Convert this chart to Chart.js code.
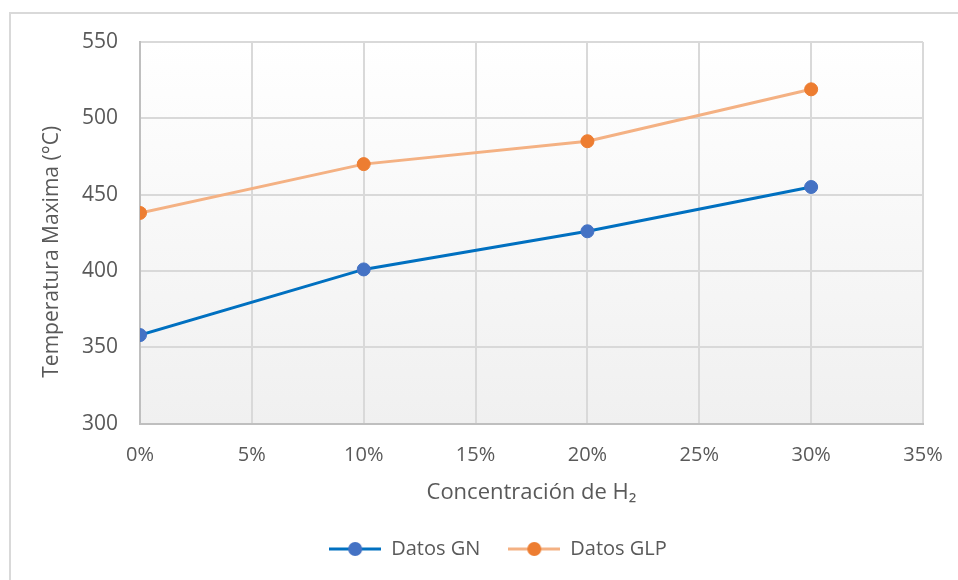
<!DOCTYPE html>
<html>
<head>
<meta charset="utf-8">
<title>Temperatura Maxima vs Concentración de H2</title>
<script src="https://cdn.jsdelivr.net/npm/chart.js@4.4.1/dist/chart.umd.min.js"></script>
<style>
  html, body { margin: 0; padding: 0; background: #ffffff; }
  canvas { display: block; }
</style>
</head>
<body>
<canvas id="chart" width="958" height="580"></canvas>
<script>
// H2 concentration (%) and peak temperature (°C) for each fuel
const concentrations = [0, 10, 20, 30];
const tempGN = [358, 401, 426, 455];
const tempGLP = [438, 470, 485, 519];
const seriesNames = ['Datos GN', 'Datos GLP'];
const xTitle = 'Concentración de H\u2082';
const yTitle = 'Temperatura Maxima (°C)';

const TEXT = '#595959';
const FONT = "'Open Sans', 'Noto Sans', sans-serif";

const colors = {
  gnLine: '#0070C0', gnPoint: '#4472C4',
  glpLine: '#F4B183', glpPoint: '#ED7D31'
};

// legend swatch: a short line with a marker in the middle
function swatch(lineColor, pointColor) {
  const c = document.createElement('canvas');
  c.width = 52; c.height = 16;
  const g = c.getContext('2d');
  g.strokeStyle = lineColor; g.lineWidth = 3;
  g.beginPath(); g.moveTo(0, 8); g.lineTo(52, 8); g.stroke();
  g.fillStyle = pointColor;
  g.beginPath(); g.arc(26, 8, 7, 0, Math.PI * 2); g.fill();
  return c;
}
const swatches = [swatch(colors.gnLine, colors.gnPoint), swatch(colors.glpLine, colors.glpPoint)];

const toPoints = vals => concentrations.map((x, i) => ({ x, y: vals[i] }));

// plot-area shading, the outer frame and the vertical axis title
const backdrop = {
  id: 'backdrop',
  beforeDraw(chart) {
    const { ctx, chartArea: a } = chart;
    ctx.save();
    ctx.fillStyle = '#ffffff';
    ctx.fillRect(0, 0, chart.width, chart.height);
    const grad = ctx.createLinearGradient(0, a.top, 0, a.bottom);
    grad.addColorStop(0, '#ffffff');
    grad.addColorStop(1, '#f0f0f0');
    ctx.fillStyle = grad;
    ctx.fillRect(a.left, a.top, a.right - a.left, a.bottom - a.top);
    ctx.strokeStyle = '#d9d9d9';
    ctx.lineWidth = 2;
    ctx.beginPath();
    ctx.moveTo(10, chart.height);
    ctx.lineTo(10, 13);
    ctx.lineTo(chart.width, 13);
    ctx.stroke();
    ctx.restore();
  },
  afterDraw(chart) {
    const { ctx, chartArea: a } = chart;
    ctx.save();
    ctx.translate(52, (a.top + a.bottom) / 2 + 19);
    ctx.rotate(-Math.PI / 2);
    ctx.fillStyle = TEXT;
    ctx.font = "21px " + FONT;
    ctx.textAlign = 'center';
    ctx.textBaseline = 'middle';
    ctx.fillText(yTitle, 0, 0);
    ctx.restore();
  }
};

new Chart(document.getElementById('chart'), {
  type: 'line',
  data: {
    datasets: [
      {
        label: seriesNames[0],
        data: toPoints(tempGN),
        borderColor: colors.gnLine,
        backgroundColor: colors.gnPoint,
        pointBackgroundColor: colors.gnPoint,
        pointBorderColor: colors.gnPoint,
        borderWidth: 3,
        pointRadius: 6.5,
        pointBorderWidth: 1,
        tension: 0
      },
      {
        label: seriesNames[1],
        data: toPoints(tempGLP),
        borderColor: colors.glpLine,
        backgroundColor: colors.glpPoint,
        pointBackgroundColor: colors.glpPoint,
        pointBorderColor: colors.glpPoint,
        borderWidth: 3,
        pointRadius: 6.5,
        pointBorderWidth: 1,
        tension: 0
      }
    ]
  },
  options: {
    responsive: false,
    animation: false,
    layout: { padding: { left: 38, top: 42, right: 0, bottom: 11 } },
    scales: {
      x: {
        type: 'linear',
        min: 0, max: 35,
        ticks: {
          stepSize: 5,
          padding: 20,
          color: TEXT,
          font: { family: FONT, size: 20 },
          callback: v => v + '%'
        },
        grid: { color: '#d9d9d9', lineWidth: 2, drawTicks: false },
        border: { color: '#bfbfbf', width: 2 },
        title: {
          display: true, text: xTitle, color: TEXT,
          font: { family: FONT, size: 22 },
          padding: { top: -8, bottom: 5 }
        },
        // the right gutter alone sets the plot's right edge
        afterFit(scale) { scale.paddingRight = 0; }
      },
      y: {
        min: 300, max: 550,
        ticks: {
          stepSize: 50,
          padding: 22,
          color: TEXT,
          font: { family: FONT, size: 21 }
        },
        grid: { color: '#d9d9d9', lineWidth: 2, drawTicks: false },
        border: { color: '#bfbfbf', width: 2 },
        afterFit(scale) { scale.width = 102; }
      },
      // empty right-hand gutter so the legend centres over the whole frame
      gutter: {
        position: 'right',
        min: 0, max: 1,
        ticks: { display: false },
        grid: { display: false },
        border: { display: false },
        afterFit(scale) { scale.width = 35; }
      }
    },
    plugins: {
      tooltip: { enabled: false },
      legend: {
        position: 'bottom',
        labels: {
          usePointStyle: true,
          pointStyleWidth: 52,
          padding: 28,
          color: TEXT,
          font: { family: FONT, size: 20 },
          generateLabels(chart) {
            return chart.data.datasets.map((ds, i) => ({
              text: ds.label,
              pointStyle: swatches[i],
              fillStyle: ds.backgroundColor,
              strokeStyle: ds.borderColor,
              lineWidth: 0,
              fontColor: TEXT,
              hidden: false,
              datasetIndex: i
            }));
          }
        }
      }
    }
  },
  plugins: [backdrop]
});
</script>
</body>
</html>
